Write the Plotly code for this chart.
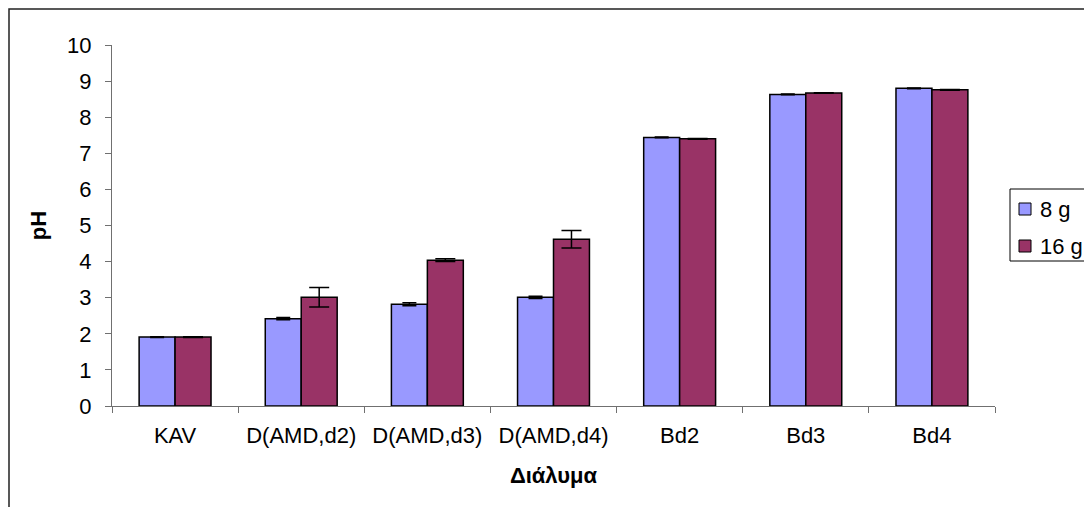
import plotly.graph_objects as go

categories = ["KAV", "D(AMD,d2)", "D(AMD,d3)", "D(AMD,d4)", "Bd2", "Bd3", "Bd4"]
series_names = ["8 g", "16 g"]
ph_8g = [1.91, 2.42, 2.82, 3.01, 7.44, 8.63, 8.80]
ph_16g = [1.91, 3.01, 4.04, 4.62, 7.40, 8.67, 8.76]
err_8g = [0.01, 0.03, 0.04, 0.03, 0.01, 0.01, 0.01]
err_16g = [0.01, 0.27, 0.04, 0.24, 0.01, 0.01, 0.01]
colors = ["#9999FF", "#993366"]

W, H = 1084, 507
L, R, T, B = 112, 89, 45, 101
pw, ph = W - L - R, H - T - B


def px_x(p):
    return (p - L) / pw


def px_y(p):
    return (H - B - p) / ph


FONT = "Arial, Liberation Sans, sans-serif"
FS = 22

fig = go.Figure()
for name, vals, errs, col, cap in zip(series_names, [ph_8g, ph_16g],
                                      [err_8g, err_16g], colors, [7, 10]):
    fig.add_trace(go.Bar(
        x=categories, y=vals, name=name,
        marker=dict(color=col, line=dict(color="black", width=1.5)),
        error_y=dict(type="data", array=errs, color="black", thickness=1.5, width=cap),
    ))

# outer chart frame
fig.add_shape(type="rect", xref="paper", yref="paper",
              x0=px_x(9), x1=px_x(W + 20), y0=px_y(H + 20), y1=px_y(9),
              line=dict(color="#222222", width=1.5), fillcolor="rgba(0,0,0,0)")

# legend box with swatches
fig.add_shape(type="rect", xref="paper", yref="paper",
              x0=px_x(1010), x1=px_x(W + 20), y0=px_y(261), y1=px_y(189),
              line=dict(color="black", width=1), fillcolor="white")
for i, (name, col) in enumerate(zip(series_names, colors)):
    cy = 209 + i * 37
    fig.add_shape(type="rect", xref="paper", yref="paper",
                  x0=px_x(1019), x1=px_x(1031), y0=px_y(cy + 6), y1=px_y(cy - 6),
                  line=dict(color="black", width=1), fillcolor=col)
    fig.add_annotation(xref="paper", yref="paper", x=px_x(1038), y=px_y(cy),
                       xanchor="left", yanchor="middle", text=name, showarrow=False,
                       font=dict(family=FONT, size=FS, color="black"))

fig.update_layout(
    width=W, height=H,
    margin=dict(l=L, r=R, t=T, b=B, pad=0, autoexpand=False),
    paper_bgcolor="white", plot_bgcolor="white",
    font=dict(family=FONT, size=FS, color="black"),
    barmode="group", bargap=0.43, bargroupgap=0,
    showlegend=False,
    xaxis=dict(
        tickson="boundaries", ticks="outside", ticklen=6, tickcolor="#707070",
        showline=True, linecolor="#707070", linewidth=1,
        showgrid=False, ticklabelstandoff=10,
        title=dict(text="<b>Διάλυμα</b>", font=dict(size=FS), standoff=20),
        tickfont=dict(size=FS),
    ),
    yaxis=dict(
        range=[0, 10], dtick=1, ticks="outside", ticklen=6, tickcolor="#707070",
        showline=True, linecolor="#707070", linewidth=1,
        showgrid=False, zeroline=False, ticklabelstandoff=9,
        title=dict(text="<b>pH</b>", font=dict(size=FS), standoff=14),
        tickfont=dict(size=FS),
    ),
)

fig.write_html("out.html")
